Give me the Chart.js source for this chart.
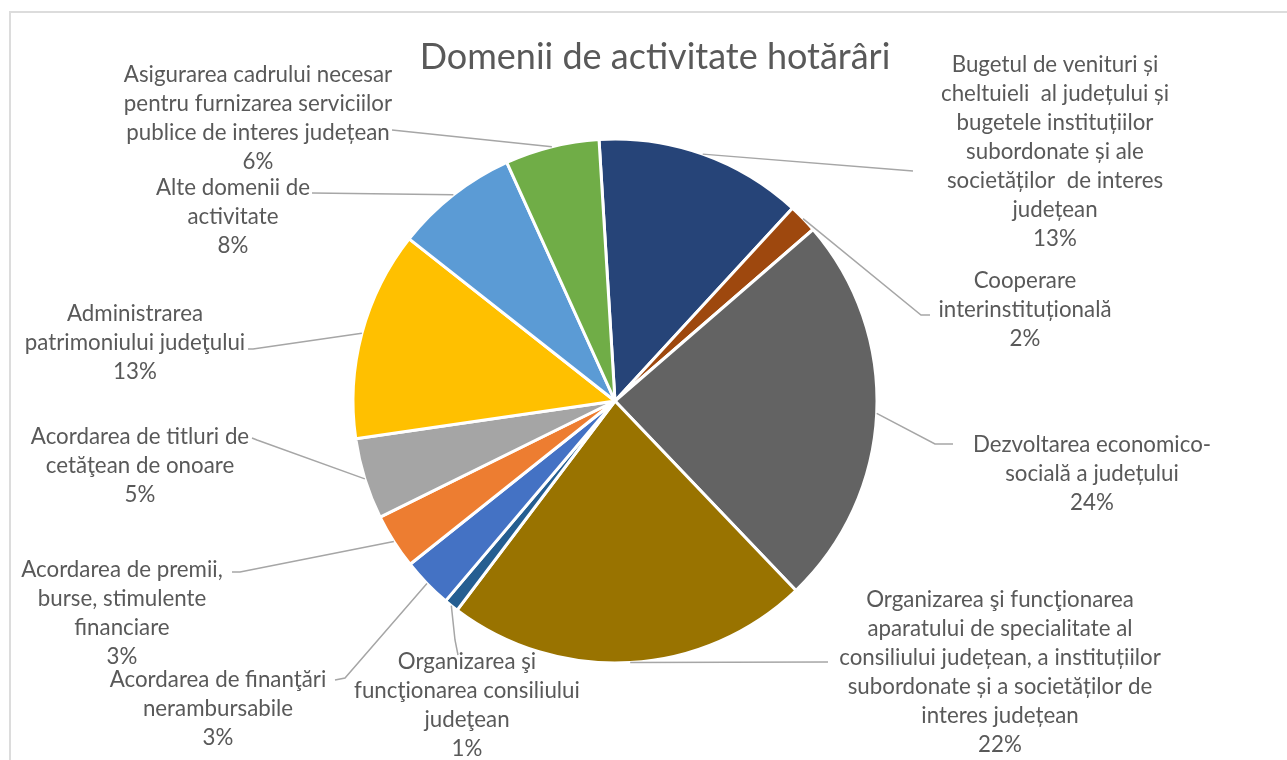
<!DOCTYPE html>
<html>
<head>
<meta charset="utf-8">
<script src="https://cdn.jsdelivr.net/npm/chart.js@4.4.1/dist/chart.umd.min.js"></script>
<style>
  html, body { margin: 0; padding: 0; background: #ffffff; overflow: hidden; }
  #frame { position: absolute; left: 9px; top: 11px; width: 1400px; height: 900px;
           border: 2px solid #dcdcdc; box-sizing: border-box; }
  #c { position: absolute; left: 0; top: 0; }
</style>
</head>
<body>
<div id="frame"></div>
<canvas id="c" width="1287" height="760"></canvas>
<script>
// ---- Data ----
const chartTitle = "Domenii de activitate hotărâri";
const categories = [
  ["Bugetul de venituri și", "cheltuieli  al județului și", "bugetele instituțiilor", "subordonate și ale", "societăților  de interes", "județean"],
  ["Cooperare", "interinstituțională"],
  ["Dezvoltarea economico-", "socială a județului"],
  ["Organizarea şi funcţionarea", "aparatului de specialitate al", "consiliului județean, a instituțiilor", "subordonate și a societăților de", "interes județean"],
  ["Organizarea şi", "funcţionarea consiliului", "judeţean"],
  ["Acordarea de finanţări", "nerambursabile"],
  ["Acordarea de premii,", "burse, stimulente", "financiare"],
  ["Acordarea de titluri de", "cetăţean de onoare"],
  ["Administrarea", "patrimoniului judeţului"],
  ["Alte domenii de", "activitate"],
  ["Asigurarea cadrului necesar", "pentru furnizarea serviciilor", "publice de interes județean"]
];
const shares = [12.8, 1.8, 24.2, 22.4, 0.9, 3.1, 3.4, 5.0, 12.9, 7.6, 5.8];

// ---- Styles / layout ----
const sliceColors = ["#264478", "#9E480E", "#636363", "#997300", "#255E91", "#4472C4",
                     "#ED7D31", "#A5A5A5", "#FFC000", "#5B9BD5", "#70AD47"];
// label text block: centre x, first line centre y; leader path points after the arc anchor
const labelLayout = [
  { cx: 1055, cy: 65,  path: [[913, 171]] },
  { cx: 1025, cy: 281, path: [[921, 315], [930, 315]] },
  { cx: 1092, cy: 445, path: [[935, 444], [953, 444]] },
  { cx: 1000, cy: 600, path: [[828, 662]] },
  { cx: 467,  cy: 662, path: [[455, 640], [458, 655]] },
  { cx: 218,  cy: 680, path: [[345, 678], [335, 680]] },
  { cx: 122,  cy: 570, path: [[240, 572], [232, 572]] },
  { cx: 140,  cy: 437, path: [[257, 440], [252, 438]] },
  { cx: 135,  cy: 314, path: [[253, 349], [248, 349]] },
  { cx: 233,  cy: 188, path: [[312, 193]] },
  { cx: 258,  cy: 75,  path: [[392, 130]] }
];
const lineGap = 29;
const labelFont = '23px Lato';
const titleFont = '36px Lato';
const textColor = '#595959';
const hScale = 0.97;

const total = shares.reduce((a, b) => a + b, 0);

function drawText(ctx, txt, x, y, sx) {
  ctx.save();
  ctx.translate(x, y);
  ctx.scale(sx, 1);
  ctx.fillText(txt, 0, 0);
  ctx.restore();
}

const outsideLabels = {
  id: 'outsideLabels',
  afterDatasetsDraw(chart) {
    const ctx = chart.ctx;
    const meta = chart.getDatasetMeta(0);
    ctx.save();
    // title
    ctx.fillStyle = textColor;
    ctx.textAlign = 'center';
    ctx.textBaseline = 'middle';
    ctx.font = titleFont;
    drawText(ctx, chartTitle, 655, 57, 1);
    // leader lines
    ctx.strokeStyle = '#a6a6a6';
    ctx.lineWidth = 1.5;
    meta.data.forEach((arc, i) => {
      const p = arc.getProps(['x', 'y', 'startAngle', 'endAngle', 'outerRadius'], true);
      const mid = (p.startAngle + p.endAngle) / 2;
      const sx = p.x + Math.cos(mid) * p.outerRadius;
      const sy = p.y + Math.sin(mid) * p.outerRadius;
      ctx.beginPath();
      ctx.moveTo(sx, sy);
      labelLayout[i].path.forEach(pt => ctx.lineTo(pt[0], pt[1]));
      ctx.stroke();
    });
    // label texts
    ctx.font = labelFont;
    ctx.fillStyle = textColor;
    categories.forEach((lines, i) => {
      const L = labelLayout[i];
      const all = lines.concat([Math.round(shares[i] / total * 100) + '%']);
      all.forEach((t, k) => drawText(ctx, t, L.cx, L.cy + k * lineGap, hScale));
    });
    ctx.restore();
  }
};

new Chart(document.getElementById('c'), {
  type: 'pie',
  data: {
    labels: categories.map(l => l.join(' ')),
    datasets: [{
      data: shares,
      backgroundColor: sliceColors,
      borderColor: '#ffffff',
      borderWidth: 3,
      hoverOffset: 0
    }]
  },
  options: {
    responsive: false,
    devicePixelRatio: 1,
    animation: false,
    rotation: -3.5,
    radius: 262,
    layout: { padding: { left: 0, right: 57, top: 42, bottom: 0 } },
    plugins: { legend: { display: false }, tooltip: { enabled: false }, title: { display: false } }
  },
  plugins: [outsideLabels]
});
</script>
</body>
</html>
